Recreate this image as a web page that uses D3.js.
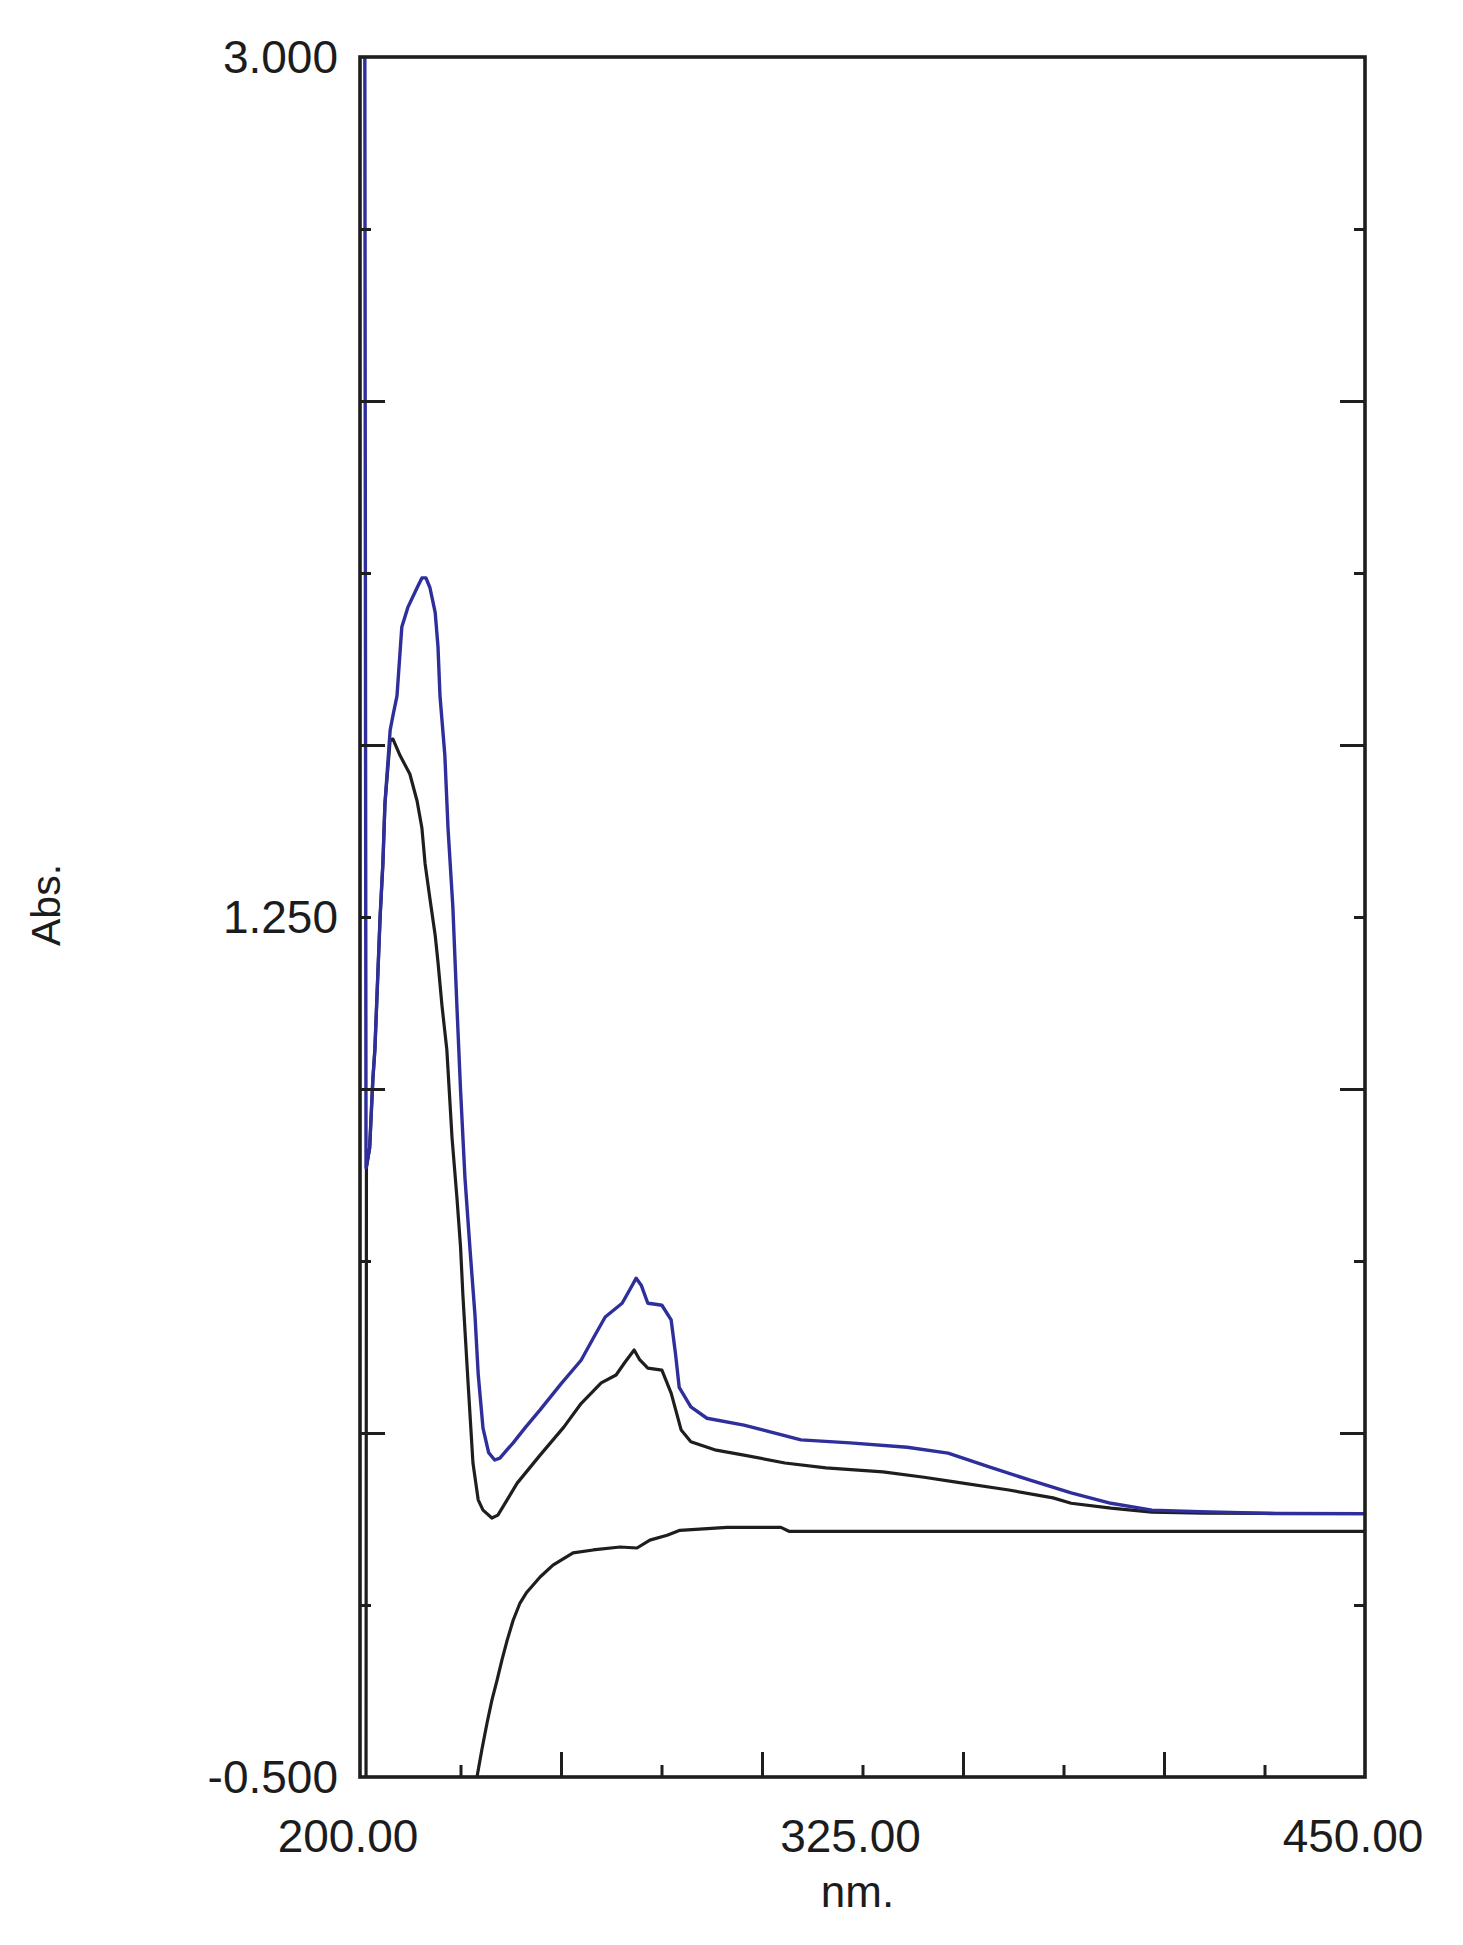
<!DOCTYPE html>
<html><head><meta charset="utf-8">
<script src="https://cdn.jsdelivr.net/npm/d3@7"></script>
<style>
body{margin:0;background:#fff}
text{font-family:"Liberation Sans",Arial,sans-serif;fill:#1c1c1c}
</style>
</head><body>
<svg id="chart" width="1463" height="1945"></svg>
<script>
// ---- data ----
const xDomain = [200, 450];
const yDomain = [-0.5, 3.0];
const xMinorTicks = [225, 275, 325, 375, 425];
const xMajorTicks = [250, 300, 350, 400];
const xLabelValues = [200, 325, 450];
const xLabelText = ["200.00", "325.00", "450.00"];
const yMinorTicks = [2.65, 1.95, 1.25, 0.55, -0.15];
const yMajorTicks = [2.3, 1.6, 0.9, 0.2];
const yLabelValues = [3.0, 1.25, -0.5];
const yLabelText = ["3.000", "1.250", "-0.500"];
const xTitle = "nm.";
const yTitle = "Abs.";

// blue spectrum
const blueNm  = [201.2,201.5,202.4,203.2,203.7,205.0,205.7,206.2,207.5,208.2,209.2,210.4,211.9,214.2,215.4,216.4,217.4,218.7,219.4,219.9,221.1,221.9,223.1,224.1,225.0,226.1,227.4,228.6,229.4,230.6,232.0,233.5,234.8,236.5,238.1,241.0,244.8,250.0,255.0,258.5,261.0,265.2,267.0,268.7,270.0,271.6,273.5,275.1,277.4,278.5,279.4,282.3,286.3,295.5,309.7,321.9,336.1,346.3,356.5,366.7,376.9,386.8,397.0,409.0,428.0,450.0];
const blueAbs = [3.0,0.74,0.78,0.92,0.98,1.25,1.36,1.48,1.63,1.66,1.70,1.84,1.88,1.92,1.94,1.94,1.92,1.87,1.80,1.70,1.58,1.43,1.27,1.07,0.90,0.72,0.57,0.44,0.32,0.21,0.16,0.145,0.149,0.165,0.180,0.21,0.247,0.30,0.348,0.40,0.436,0.464,0.49,0.515,0.50,0.464,0.462,0.460,0.430,0.36,0.293,0.253,0.230,0.216,0.186,0.180,0.171,0.159,0.131,0.104,0.078,0.057,0.043,0.040,0.036,0.036];

// upper black spectrum
const blackNm  = [201.5,201.6,202.4,203.2,203.7,205.0,205.7,206.2,207.5,208.2,210.0,212.4,214.2,215.4,216.2,217.4,218.7,219.4,220.4,221.6,222.9,224.1,225.0,225.6,226.9,228.1,229.4,230.6,232.8,234.3,236.6,239.1,244.8,250.7,255.0,260.0,263.7,266.0,268.2,269.5,271.6,275.1,277.4,279.9,282.3,288.6,295.5,305.7,315.9,330.1,340.3,348.3,361.4,372.4,376.9,386.8,397.0,410.0,450.0];
const blackAbs = [-0.5,0.74,0.78,0.92,0.98,1.25,1.36,1.48,1.61,1.612,1.578,1.541,1.486,1.431,1.358,1.287,1.213,1.158,1.069,0.98,0.80,0.68,0.58,0.48,0.30,0.139,0.064,0.043,0.027,0.033,0.064,0.098,0.155,0.212,0.26,0.302,0.318,0.345,0.369,0.35,0.332,0.328,0.281,0.206,0.182,0.165,0.155,0.139,0.129,0.121,0.110,0.100,0.084,0.068,0.057,0.047,0.039,0.037,0.036];

// baseline spectrum
const baseNm  = [229.1,230.3,231.6,232.8,234.1,235.3,236.6,238.1,239.8,241.5,244.8,248.0,253.0,258.0,264.7,268.9,272.1,276.4,279.6,291.3,304.7,306.7,320.0,450.0];
const baseAbs = [-0.50,-0.445,-0.39,-0.344,-0.303,-0.262,-0.222,-0.181,-0.146,-0.124,-0.093,-0.069,-0.044,-0.038,-0.032,-0.034,-0.018,-0.008,0.002,0.008,0.008,0.0,0.0,0.0];

// ---- layout ----
const plotLeft = 360, plotRight = 1365, plotTop = 57, plotBottom = 1777;
const svg = d3.select("#chart");
const x = d3.scaleLinear().domain(xDomain).range([plotLeft, plotRight]);
const y = d3.scaleLinear().domain(yDomain).range([plotBottom, plotTop]);

svg.append("defs").append("clipPath").attr("id", "clip")
  .append("rect").attr("x", plotLeft).attr("y", plotTop)
  .attr("width", plotRight - plotLeft).attr("height", plotBottom - plotTop);

const line = d3.line().x(d => x(d[0])).y(d => y(d[1]));
const g = svg.append("g").attr("clip-path", "url(#clip)");

g.append("path").datum(d3.zip(baseNm, baseAbs))
  .attr("d", line).attr("fill", "none").attr("stroke", "#1e1e1e").attr("stroke-width", 3.2).attr("stroke-linejoin", "round");
g.append("path").datum(d3.zip(blackNm, blackAbs))
  .attr("d", line).attr("fill", "none").attr("stroke", "#1e1e1e").attr("stroke-width", 3.2).attr("stroke-linejoin", "round");
g.append("path").datum(d3.zip(blueNm, blueAbs))
  .attr("d", line).attr("fill", "none").attr("stroke", "#2f2f9c").attr("stroke-width", 3.4).attr("stroke-linejoin", "round");

// ticks via d3 axes (inward)
const axCol = "#1e1e1e";
function noLabels(ax){ return ax.tickFormat(() => ""); }
function styleAxis(sel){
  sel.select(".domain").remove();
  sel.selectAll(".tick line").attr("stroke", axCol).attr("stroke-width", 3);
  sel.selectAll(".tick text").remove();
}
svg.append("g").attr("transform", `translate(0,${plotBottom})`)
  .call(noLabels(d3.axisBottom(x).tickValues(xMajorTicks).tickSize(-25))).call(styleAxis);
svg.append("g").attr("transform", `translate(0,${plotBottom})`)
  .call(noLabels(d3.axisBottom(x).tickValues(xMinorTicks).tickSize(-12))).call(styleAxis);
svg.append("g").attr("transform", `translate(${plotLeft},0)`)
  .call(noLabels(d3.axisLeft(y).tickValues(yMajorTicks).tickSize(-25))).call(styleAxis);
svg.append("g").attr("transform", `translate(${plotLeft},0)`)
  .call(noLabels(d3.axisLeft(y).tickValues(yMinorTicks).tickSize(-11))).call(styleAxis);
svg.append("g").attr("transform", `translate(${plotRight},0)`)
  .call(noLabels(d3.axisRight(y).tickValues(yMajorTicks).tickSize(-25))).call(styleAxis);
svg.append("g").attr("transform", `translate(${plotRight},0)`)
  .call(noLabels(d3.axisRight(y).tickValues(yMinorTicks).tickSize(-11))).call(styleAxis);

// frame
svg.append("rect").attr("x", plotLeft).attr("y", plotTop)
  .attr("width", plotRight - plotLeft).attr("height", plotBottom - plotTop)
  .attr("fill", "none").attr("stroke", axCol).attr("stroke-width", 3.6);

// tick labels
svg.append("g").selectAll("text").data(d3.zip(yLabelValues, yLabelText)).join("text")
  .attr("x", plotLeft - 22).attr("y", d => y(d[0]) + 16)
  .attr("text-anchor", "end").attr("font-size", 46).text(d => d[1]);
svg.append("g").selectAll("text").data(d3.zip(xLabelValues, xLabelText)).join("text")
  .attr("x", d => x(d[0]) - 12).attr("y", 1852)
  .attr("text-anchor", "middle").attr("font-size", 46).text(d => d[1]);

// axis titles
svg.append("text").attr("x", x(325) - 5).attr("y", 1907).attr("text-anchor", "middle")
  .attr("font-size", 44).text(xTitle);
svg.append("text").attr("transform", "translate(60,905) rotate(-90)").attr("text-anchor", "middle")
  .attr("font-size", 41).text(yTitle);
</script>
</body></html>
